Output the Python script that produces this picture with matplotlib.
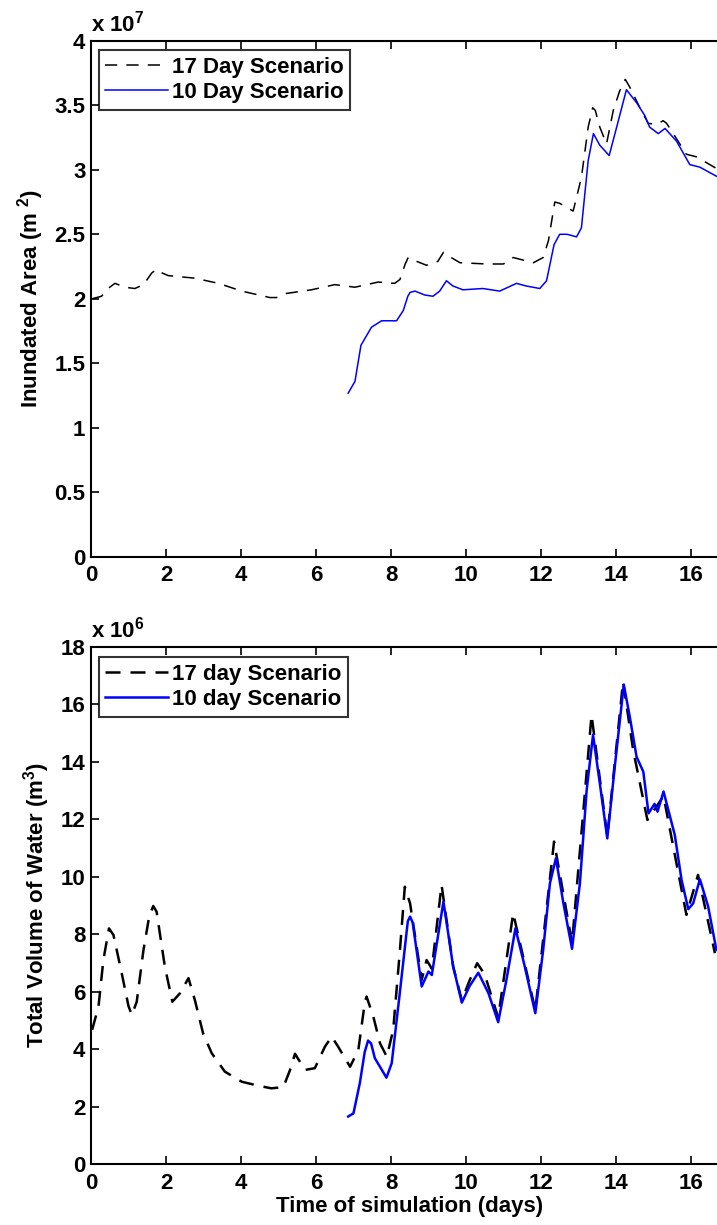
import numpy as np
import matplotlib
matplotlib.use('Agg')
import matplotlib.pyplot as plt
from matplotlib.ticker import FormatStrFormatter

plt.rcParams['font.family'] = ['Liberation Sans', 'DejaVu Sans']
plt.rcParams['font.weight'] = 'bold'
plt.rcParams['mathtext.fontset'] = 'custom'
plt.rcParams['mathtext.rm'] = 'Liberation Sans:bold'
plt.rcParams['mathtext.bf'] = 'Liberation Sans:bold'

# ---- inundated area (x 1e7 m^2) ----
t_area17 = [0.02, 0.28, 0.5, 0.64, 0.9, 1.17, 1.4, 1.62, 1.75, 1.9, 2.06, 2.77, 3.4, 4.02, 4.77,
            4.95, 5.17, 5.88, 6.5, 7.04, 7.66, 8.1, 8.24, 8.38, 8.46, 8.6, 8.95, 9.25, 9.4, 9.55,
            9.84, 10.55, 11.0, 11.26, 11.8, 12.06, 12.2, 12.37, 12.5, 12.68, 12.86, 13.08,
            13.26, 13.38, 13.45, 13.57, 13.75, 13.93, 14.1, 14.25, 14.37, 14.64, 14.86, 15.08,
            15.26, 15.35, 15.53, 15.88, 16.15, 16.68]
area17 = [2.0, 2.02, 2.09, 2.12, 2.09, 2.08, 2.11, 2.2, 2.23, 2.2, 2.18, 2.16, 2.12, 2.06, 2.01,
          2.01, 2.04, 2.07, 2.11, 2.09, 2.13, 2.12, 2.15, 2.27, 2.32, 2.3, 2.26, 2.29, 2.36, 2.33,
          2.28, 2.27, 2.27, 2.32, 2.28, 2.32, 2.45, 2.75, 2.74, 2.71, 2.68, 2.94,
          3.33, 3.48, 3.46, 3.33, 3.2, 3.46, 3.61, 3.7, 3.64, 3.48, 3.36, 3.35,
          3.38, 3.36, 3.28, 3.12, 3.1, 3.01]

t_area10 = [6.86, 7.04, 7.2, 7.48, 7.75, 8.15, 8.33, 8.45, 8.51, 8.64, 8.9, 9.12, 9.3, 9.48,
            9.65, 9.92, 10.45, 10.9, 11.35, 11.6, 11.97, 12.15, 12.35, 12.5, 12.7, 12.95, 13.08,
            13.26, 13.4, 13.57, 13.82, 14.02, 14.28, 14.55, 14.77, 14.9, 15.13, 15.31, 15.62,
            15.97, 16.24, 16.68]
area10 = [1.27, 1.36, 1.64, 1.78, 1.83, 1.83, 1.91, 2.02, 2.05, 2.06, 2.03, 2.02, 2.06, 2.14,
          2.1, 2.07, 2.08, 2.06, 2.12, 2.1, 2.08, 2.14, 2.42, 2.5, 2.5, 2.48, 2.55,
          3.07, 3.28, 3.19, 3.11, 3.33, 3.62, 3.52, 3.42, 3.33, 3.28, 3.32, 3.22,
          3.04, 3.02, 2.95]

# ---- total volume of water (x 1e6 m^3) ----
t_vol17 = [0.03, 0.2, 0.33, 0.48, 0.6, 0.82, 1.0, 1.09, 1.22, 1.4, 1.55, 1.66, 1.75, 1.97, 2.17,
           2.37, 2.6, 2.77, 2.99, 3.22, 3.57, 4.02, 4.46, 4.81, 5.13, 5.31, 5.44, 5.71, 5.97,
           6.24, 6.42, 6.59, 6.91, 7.13, 7.3, 7.35, 7.53, 7.71, 7.89, 8.06, 8.24, 8.37, 8.51,
           8.82, 8.95, 9.09, 9.35, 9.66, 9.89, 10.1, 10.3, 10.5, 10.86, 11.26, 11.85, 12.35,
           12.83, 13.35, 13.77, 14.19, 14.46, 14.84, 15.27, 15.88, 16.19, 16.64]
vol17 = [4.67, 5.48, 7.1, 8.2, 7.97, 6.64, 5.5, 5.19, 5.65, 7.45, 8.6, 8.98, 8.78, 6.87, 5.65,
         5.94, 6.47, 5.71, 4.55, 3.86, 3.22, 2.87, 2.73, 2.64, 2.68, 3.28, 3.84, 3.28, 3.34,
         4.09, 4.44, 4.09, 3.39, 3.97, 5.6, 5.83, 5.13, 4.2, 3.74, 4.67, 7.45, 9.65, 9.07,
         6.41, 7.1, 6.8, 9.71, 6.87, 5.7, 6.4, 6.99, 6.6, 5.1, 8.73, 5.36, 11.22,
         7.7, 15.62, 11.4, 16.78, 14.4, 11.97, 12.8, 8.67, 10.06, 7.34]

t_vol10 = [6.86, 7.0, 7.17, 7.3, 7.39, 7.47, 7.57, 7.88, 8.02, 8.24, 8.45, 8.51, 8.58, 8.82, 9.0,
           9.09, 9.4, 9.66, 9.89, 10.1, 10.33, 10.6, 10.86, 11.08, 11.32, 11.57, 11.85, 12.06,
           12.24, 12.4, 12.6, 12.83, 13.04, 13.22, 13.39, 13.57, 13.77, 13.97, 14.21, 14.37,
           14.55, 14.73, 14.87, 15.03, 15.11, 15.27, 15.57, 15.75, 15.93, 16.06, 16.24, 16.46,
           16.68]
vol10 = [1.66, 1.77, 2.82, 3.9, 4.3, 4.2, 3.69, 3.01, 3.51, 6.0, 8.45, 8.61, 8.4, 6.18, 6.7,
         6.58, 9.13, 6.87, 5.62, 6.2, 6.66, 5.95, 4.94, 6.41, 8.2, 6.87, 5.25, 7.45,
         9.77, 10.64, 9.07, 7.49, 9.77, 13.01, 14.93, 13.25, 11.33, 13.83, 16.67, 15.56,
         14.17, 13.65, 12.2, 12.53, 12.26, 12.96, 11.45, 9.89, 8.87, 9.07, 9.91, 8.96,
         7.45]

fig = plt.figure(figsize=(7.17, 12.25), dpi=100)
ax1 = fig.add_axes([0.1269, 0.5453, 0.889, 0.4215])
ax2 = fig.add_axes([0.1269, 0.0496, 0.889, 0.4226])

fs = 16

def style(ax, ymax, ystep):
    ax.set_xlim(0, 17)
    ax.set_ylim(0, ymax)
    ax.set_xticks(np.arange(0, 17, 2))
    ax.set_yticks(np.arange(0, ymax + ystep / 2, ystep))
    ax.yaxis.set_major_formatter(FormatStrFormatter('%g'))
    ax.tick_params(direction='in', length=6, width=1.2, labelsize=fs, top=True, right=True)
    ax.tick_params(axis='x', pad=6)
    ax.tick_params(axis='y', pad=4)
    for s in ax.spines.values():
        s.set_linewidth(1.5)
    for lab in ax.get_xticklabels() + ax.get_yticklabels():
        lab.set_fontweight('bold')

ax1.plot(t_area17, area17, '--', color='black', lw=1.1, dashes=(8, 6), label='17 Day Scenario')
ax1.plot(t_area10, area10, '-', color='blue', lw=1.1, label='10 Day Scenario')
style(ax1, 4, 0.5)
ax1.set_ylabel('Inundated Area (m $^{2}$)', fontsize=fs, fontweight='bold', labelpad=6)
ax1.text(0.0, 1.008, 'x 10$^{7}$', transform=ax1.transAxes, fontsize=fs, fontweight='bold',
         ha='left', va='bottom')
leg1 = ax1.legend(loc='upper left', fontsize=fs, frameon=True, fancybox=False, edgecolor='black',
                  handlelength=2.8, borderpad=0.3, labelspacing=0.2, handletextpad=0.2,
                  bbox_to_anchor=(0.012, 0.982), borderaxespad=0)
leg1.get_frame().set_linewidth(1.5)

ax2.plot(t_vol17, vol17, '--', color='black', lw=1.8, dashes=(6, 4), label='17 day Scenario')
ax2.plot(t_vol10, vol10, '-', color='blue', lw=1.8, label='10 day Scenario')
style(ax2, 18, 2)
ax2.set_ylabel('Total Volume of Water (m$^{3}$)', fontsize=fs, fontweight='bold', labelpad=6)
ax2.set_xlabel('Time of simulation (days)', fontsize=fs, fontweight='bold', labelpad=2)
ax2.text(0.0, 1.008, 'x 10$^{6}$', transform=ax2.transAxes, fontsize=fs, fontweight='bold',
         ha='left', va='bottom')
leg2 = ax2.legend(loc='upper left', fontsize=fs, frameon=True, fancybox=False, edgecolor='black',
                  handlelength=2.8, borderpad=0.3, labelspacing=0.2, handletextpad=0.2,
                  bbox_to_anchor=(0.012, 0.98), borderaxespad=0)
leg2.get_frame().set_linewidth(1.5)

fig.savefig('out.png', dpi=100)
